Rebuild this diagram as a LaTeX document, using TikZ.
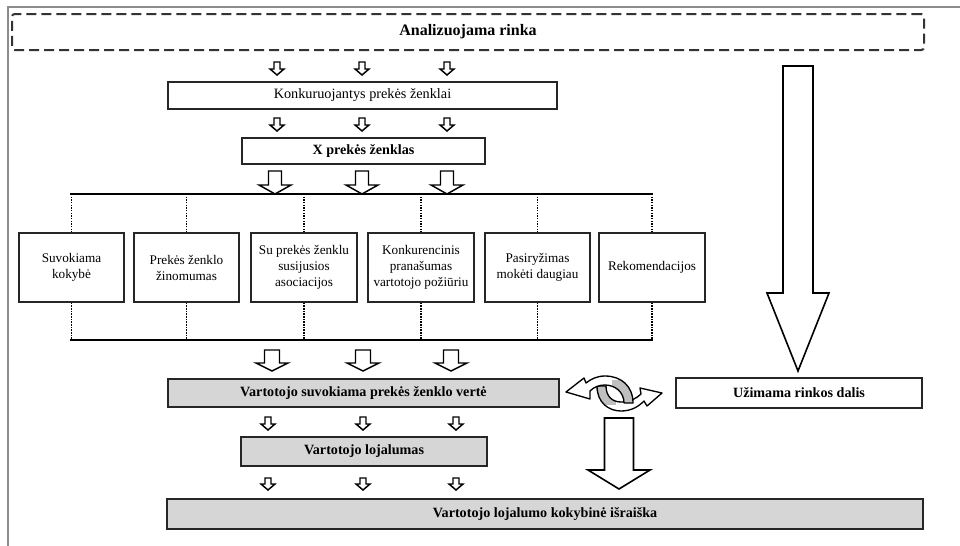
\documentclass[tikz,border=0pt]{standalone}
\usepackage{fontspec}
\setmainfont{Liberation Serif}
\newcommand\dnarr[6]{% x, top, head base, tip, shaft half, head half
  \draw[arrowshape] (#1-#5,#2) -- (#1+#5,#2) -- (#1+#5,#3) -- (#1+#6,#3) -- (#1,#4) -- (#1-#6,#3) -- (#1-#5,#3) -- cycle;}
\newcommand\boxnode[7]{% style, name, x1, y1, x2, y2, text
  \node[#1, minimum width={(#5-#3)*0.75pt}, minimum height={(#6-#4)*0.75pt}] (#2) at ({(#3+#5)/2},{(#4+#6)/2}) {#7};}
\begin{document}
\begin{tikzpicture}[x=0.75pt,y=-0.75pt,
  framestyle/.style={draw=black!45, line width=1.4pt},
  anabox/.style={draw=black!80, line width=1.5pt, dash pattern=on 7.5pt off 3.75pt, rounded corners=2pt, inner sep=0pt, font=\fontsize{12}{14}\selectfont\bfseries},
  wbox/.style={draw=black!85, line width=1.1pt, fill=white, inner sep=0pt, align=center},
  gbox/.style={draw=black!85, line width=1.4pt, fill=black!16, inner sep=0pt, align=center, font=\fontsize{10.6}{12}\selectfont\bfseries},
  smalltext/.style={font=\fontsize{9.9}{12}\selectfont},
  regtext/.style={font=\fontsize{10.7}{12}\selectfont},
  boldtext/.style={font=\fontsize{10.6}{12}\selectfont\bfseries},
  arrowshape/.style={draw=black, fill=white, line width=1.1pt, line join=miter},
  bigarrow/.style={draw=black, fill=white, line width=1.2pt},
  bus/.style={draw=black, line width=1.4pt},
  dotline/.style={draw=black, line width=1.3pt, dash pattern=on 1.1pt off 0.9pt},
  curvarr/.style={draw=black, fill=white, line width=1pt, line join=round}
]
\useasboundingbox (0,0) rectangle (960,546);
% outer frame
\coordinate (frBL) at (8,546);
\coordinate (frTL) at (8,7);
\coordinate (frTR) at (960,7);
\draw[framestyle] (frBL) -- (frTL) -- (frTR);

% boxes
\boxnode{anabox}{ana}{12}{14}{924}{50}{Analizuojama rinka}
\boxnode{wbox, regtext}{konk}{168}{82}{557}{109}{Konkuruojantys prekės ženklai}
\boxnode{wbox, boldtext}{xbox}{242}{138}{485}{164}{X prekės ženklas}

\boxnode{wbox, smalltext}{b1}{19}{233}{124}{302}{Suvokiama\\kokybė}
\boxnode{wbox, smalltext}{b2}{134}{233}{239}{302}{Prekės ženklo\\žinomumas}
\boxnode{wbox, smalltext}{b3}{251}{233}{357}{302}{Su prekės ženklu\\susijusios\\asociacijos}
\boxnode{wbox, smalltext}{b4}{368}{233}{474}{302}{Konkurencinis\\pranašumas\\vartotojo požiūriu}
\boxnode{wbox, smalltext}{b5}{485}{233}{590}{302}{Pasiryžimas\\mokėti daugiau}
\boxnode{wbox, smalltext}{b6}{599}{233}{705}{302}{Rekomendacijos}

\boxnode{gbox}{vert}{168}{379}{559}{407}{Vartotojo suvokiama prekės ženklo vertė}
\boxnode{gbox}{loj}{241}{437}{487}{466}{Vartotojo lojalumas}
\boxnode{gbox}{kok}{167}{499}{923}{529}{Vartotojo lojalumo kokybinė išraiška}
\boxnode{wbox, boldtext, line width=1.4pt}{uzim}{676}{378}{922}{408}{Užimama rinkos dalis}

% buses
\coordinate (busTL) at (70,194);
\coordinate (busTR) at (653,194);
\coordinate (busBL) at (70,340);
\coordinate (busBR) at (653,340);
\draw[bus] (busTL) -- (busTR);
\draw[bus] (busBL) -- (busBR);
\foreach \b in {b1,b2,b3,b4,b5,b6}{
  \draw[dotline] (\b.north |- busTL) -- (\b.north);
  \draw[dotline] (\b.south) -- (\b.south |- busBL);
}

% small arrows rows
\foreach \x in {277,362,447}{
  \dnarr{\x}{62}{69}{75}{3}{7}
  \dnarr{\x}{118}{125}{131}{3}{7}
}
\foreach \x in {275,362,447}{
  \dnarr{\x}{171}{185}{194}{6.5}{16}
}
\foreach \x in {272,363,451}{
  \dnarr{\x}{350}{363}{371}{7.5}{16}
}
\foreach \x in {268,363,456}{
  \dnarr{\x}{417}{424}{430}{3}{7}
  \dnarr{\x}{478}{484}{490}{3}{7}
}

% big arrows
\draw[bigarrow] (783,66) -- (813,66) -- (813,293) -- (829,293) -- (798,371) -- (767,293) -- (783,293) -- cycle;
\draw[bigarrow] (604.5,418) -- (633.5,418) -- (633.5,470) -- (650,470) -- (619,489) -- (588,470) -- (604.5,470) -- cycle;

% curved exchange arrows
\draw[curvarr, path picture={\fill[black!25] (594,380) rectangle (616,405);}]
  (597,386) .. controls (597,403) and (609,411) .. (621,411)
  .. controls (632,411) and (639,406) .. (644,401)
  -- (647,406) -- (662,393) -- (640,388) -- (641,394)
  .. controls (636,399) and (629,402) .. (621,402)
  .. controls (612,402) and (606,396) .. (606,386) -- cycle;
\draw[curvarr, path picture={\fill[black!25] (612,380) rectangle (640,410);}]
  (633,403) .. controls (633,386) and (621,376) .. (605,376)
  .. controls (597,376) and (591,379) .. (586,383)
  -- (584,378) -- (566,392) -- (590,399) -- (590,391)
  .. controls (594,387) and (599,385) .. (605,385)
  .. controls (615,385) and (624,392) .. (624,403) -- cycle;
\end{tikzpicture}
\end{document}
